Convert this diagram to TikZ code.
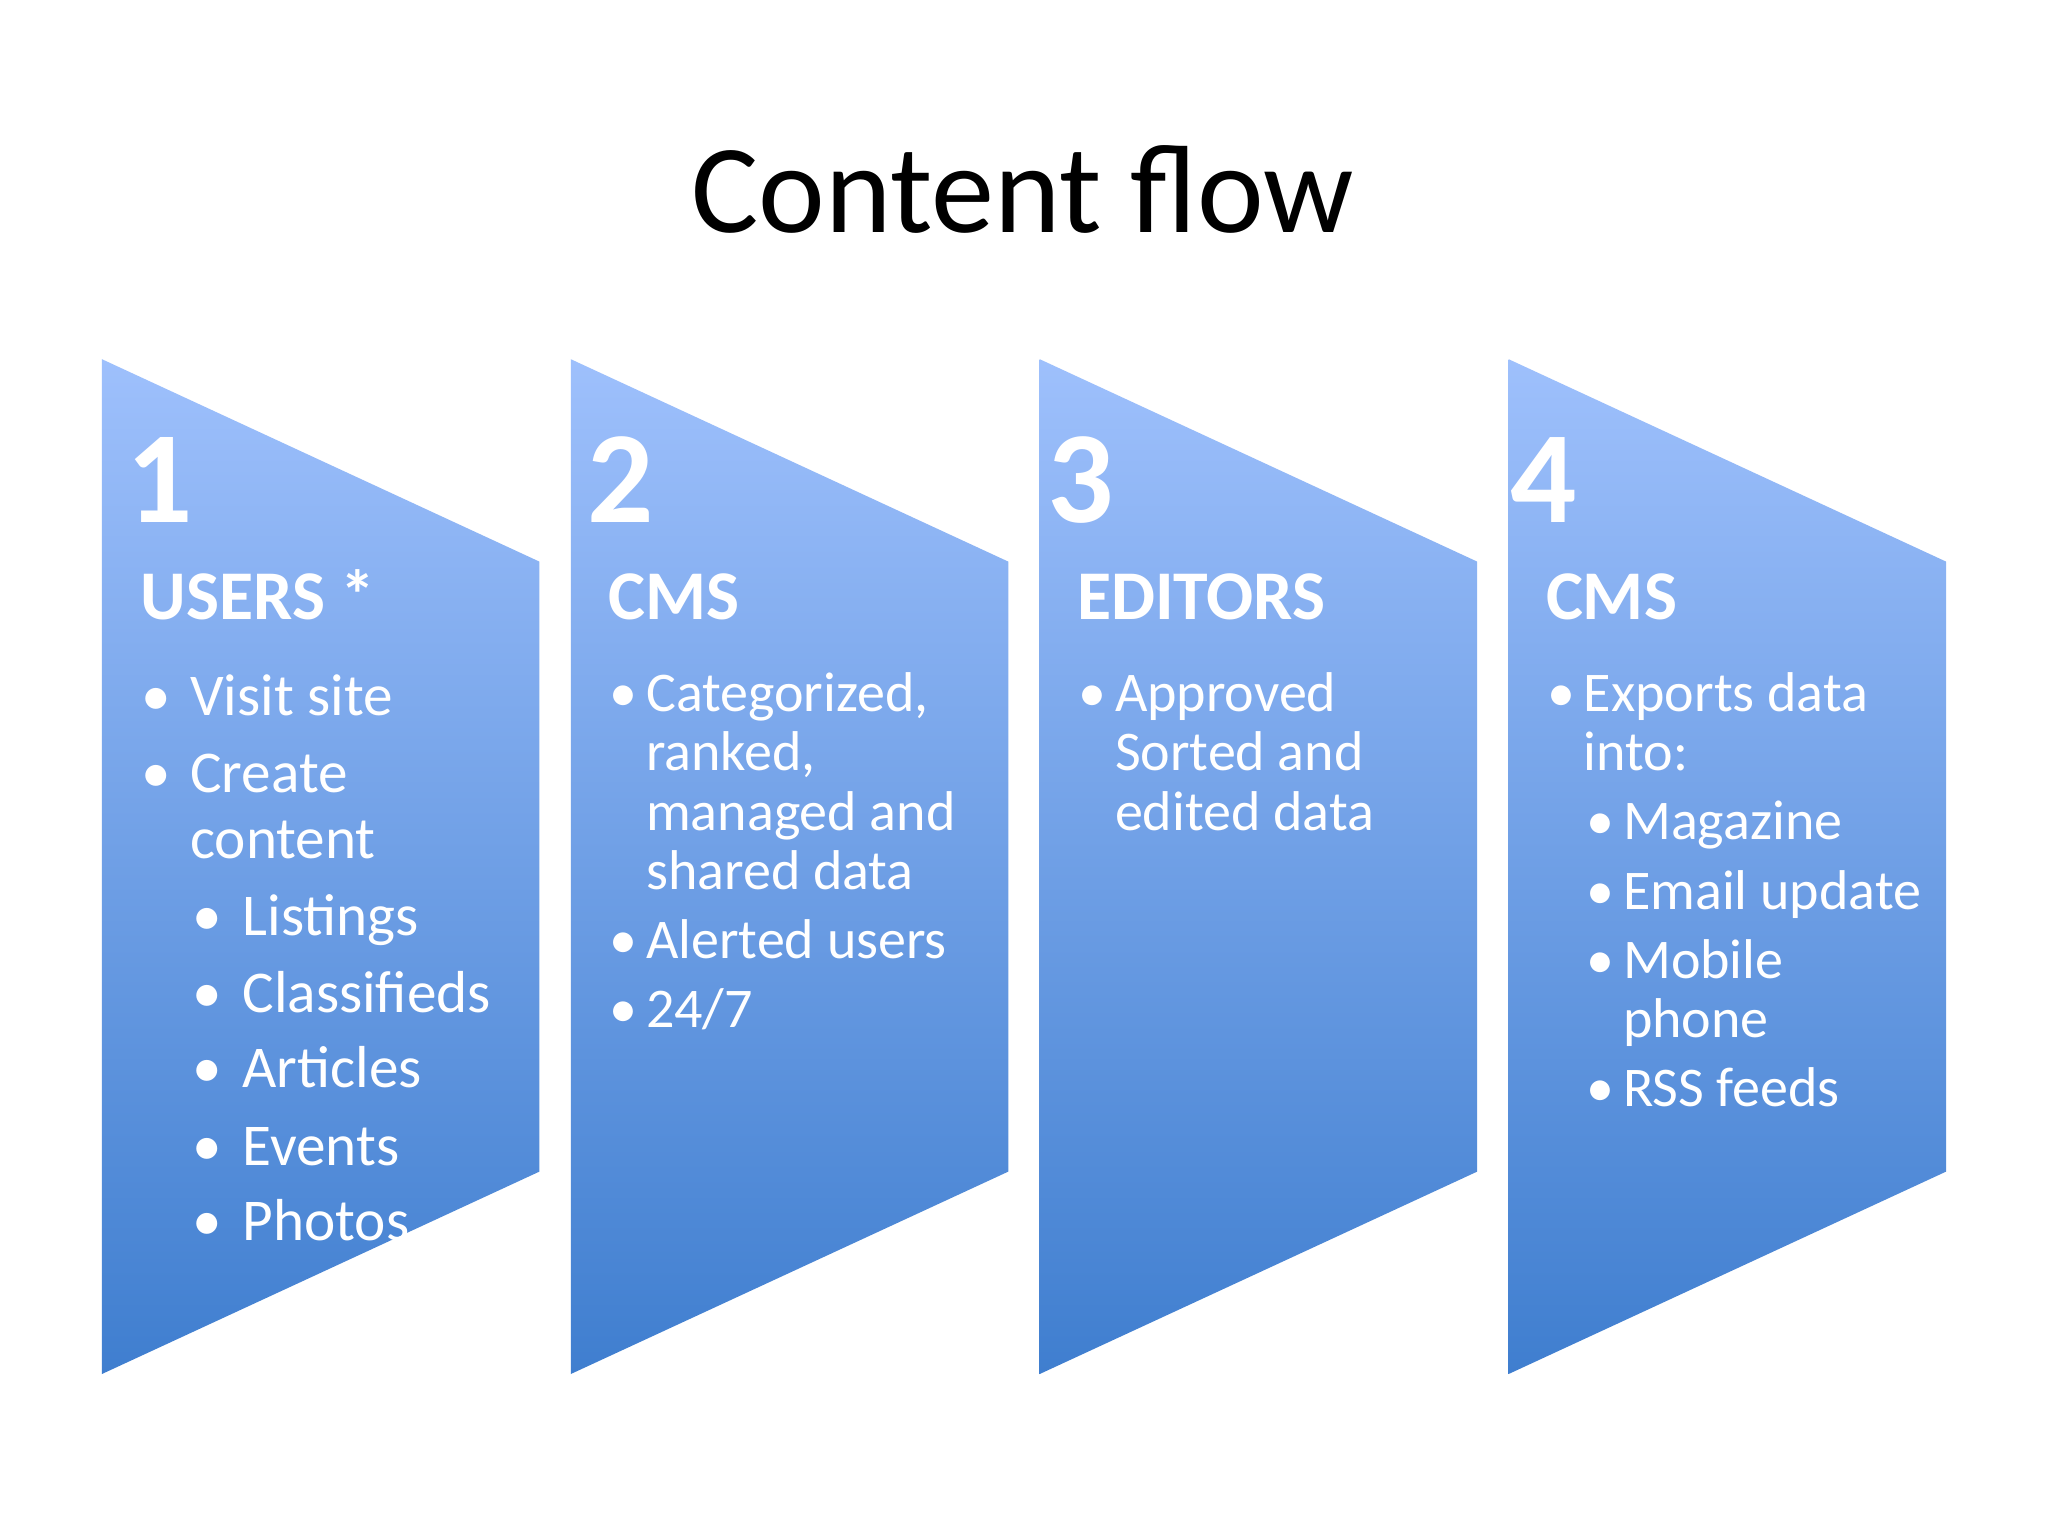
\documentclass[tikz,border=0pt]{standalone}
\usepackage{fontspec}
\setmainfont{Carlito}
\begin{document}
\begin{tikzpicture}[x=0.01cm,y=-0.01cm,
  num/.style={anchor=base west,inner sep=0,text=white,font=\fontsize{28.5}{30}\selectfont\bfseries},
  head/.style={anchor=base west,inner sep=0,text=white,font=\fontsize{15.2}{17}\selectfont\bfseries},
  item/.style={anchor=base west,inner sep=0,text=white,font=\fontsize{12.9}{15}\selectfont},
  itemb/.style={anchor=base west,inner sep=0,text=white,font=\fontsize{12.2}{14}\selectfont}]
\definecolor{panelTop}{HTML}{9EC0FC}
\definecolor{panelBot}{HTML}{3F7ECF}
\useasboundingbox (0,0) rectangle (1568,1176);
\fill[white] (0,0) rectangle (1568,1176);
\node[anchor=base,inner sep=0,font=\fontsize{27.5}{30}\selectfont] (title) at (783,178) {Content flow};
\foreach \i/\dx in {1/0,2/359,3/718,4/1077}{
  \shade[top color=panelTop,bottom color=panelBot] (78+\dx,275) -- (413+\dx,430) -- (413+\dx,897) -- (78+\dx,1052) -- cycle;
}
% panel 1
\node[num] (n1) at (96,400) {1};
\node[head] (h1) at (107,474) {USERS *};
\foreach \t/\yy in {Visit site/548,Create/607}{\node[item] at (108,\yy) {\textbullet}; \node[item] at (145,\yy) {\t};}
\node[item] at (145,657) {content};
\foreach \t/\yy in {Listings/716,Classifieds/775,Articles/833,Events/892,Photos/950}{\node[item] at (147,\yy) {\textbullet}; \node[item] at (185,\yy) {\t};}
% panel 2
\node[num] (n2) at (449,400) {2};
\node[head] (h2) at (465,474) {CMS};
\foreach \yy in {545,734,787}{\node[itemb] at (466,\yy) {\textbullet};}
\foreach \t/\yy in {{Categorized,}/545,{ranked,}/590,managed and/636,shared data/681,Alerted users/734,{24/7}/787}{\node[itemb] at (494,\yy) {\t};}
% panel 3
\node[num] (n3) at (801,400) {3};
\node[head] (h3) at (824,474) {EDITORS};
\node[itemb] at (825,545) {\textbullet};
\foreach \t/\yy in {Approved/545,Sorted and/590,edited data/636}{\node[itemb] at (853,\yy) {\t};}
% panel 4
\node[num] (n4) at (1156,400) {4};
\node[head] (h4) at (1183,474) {CMS};
\node[itemb] at (1184,545) {\textbullet};
\node[itemb] at (1212,545) {Exports data};
\node[itemb] at (1212,590) {into:};
\foreach \yy in {643,696,749,847}{\node[itemb] at (1214,\yy) {\textbullet};}
\foreach \t/\yy in {Magazine/643,Email update/696,Mobile/749,phone/794,RSS feeds/847}{\node[itemb] at (1242,\yy) {\t};}
\end{tikzpicture}
\end{document}
